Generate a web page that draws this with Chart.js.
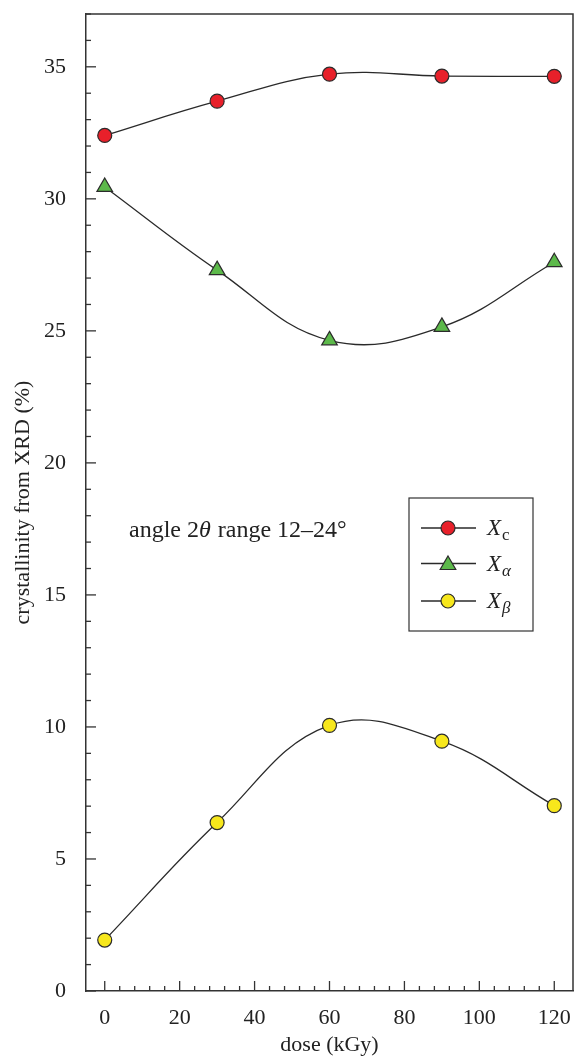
<!DOCTYPE html>
<html>
<head>
<meta charset="utf-8">
<script src="https://cdn.jsdelivr.net/npm/chart.js@4.4.1/dist/chart.umd.min.js"></script>
<style>
  html, body { margin: 0; padding: 0; background: #fff; }
  #wrap { width: 574px; height: 1057px; }
</style>
</head>
<body>
<div id="wrap"><canvas id="c" width="574" height="1057"></canvas></div>
<script>
// ---- data ----
const doses = [0, 30, 60, 90, 120];
const Xc = [32.4, 33.7, 34.72, 34.65, 34.64];
const Xalpha = [30.45, 27.3, 24.64, 25.15, 27.6];
const Xbeta = [1.93, 6.38, 10.06, 9.46, 7.02];
const yTickLabels = [0, 5, 10, 15, 20, 25, 30, 35];
const xTickLabels = [0, 20, 40, 60, 80, 100, 120];
const seriesNames = ['c', 'α', 'β'];

const SERIF = '"Liberation Serif", "DejaVu Serif", serif';
const EDGE = '#2b2b2b';
const LINE = '#2a2a2a';
const TEXT = '#222';
const colors = ['#e8202a', '#5cb94a', '#f7e71c'];
const styles = ['circle', 'triangle', 'circle'];
const radii = [7, 9, 7];

function pts(arr) { return doses.map((d, i) => ({ x: d, y: arr[i] })); }

const ticksAndFrame = {
  id: 'ticksAndFrame',
  afterDraw(chart) {
    const { ctx, chartArea: a, scales: { x, y } } = chart;
    ctx.save();
    ctx.strokeStyle = '#333';
    ctx.lineWidth = 1.5;
    // frame (top and right)
    ctx.beginPath();
    ctx.moveTo(a.left, a.top); ctx.lineTo(a.right, a.top); ctx.lineTo(a.right, a.bottom);
    ctx.stroke();
    ctx.lineWidth = 1.3;
    // y ticks (inward)
    y.ticks.forEach(t => {
      const v = t.value;
      if (Math.abs(v - Math.round(v)) > 1e-6) return;
      const py = y.getPixelForValue(v);
      const len = (Math.round(v) % 5 === 0) ? 10 : 5;
      ctx.beginPath(); ctx.moveTo(a.left, py); ctx.lineTo(a.left + len, py); ctx.stroke();
    });
    // x ticks (inward)
    x.ticks.forEach(t => {
      const v = Math.round(t.value);
      if (Math.abs(t.value - v) > 1e-6 || v % 4 !== 0) return;
      const px = x.getPixelForValue(v);
      const len = (v % 20 === 0) ? 10 : 5;
      ctx.beginPath(); ctx.moveTo(px, a.bottom); ctx.lineTo(px, a.bottom - len); ctx.stroke();
    });
    // annotation
    ctx.fillStyle = TEXT;
    ctx.textBaseline = 'alphabetic';
    ctx.textAlign = 'left';
    let tx = a.left + 43, ty = a.top + 523;
    const parts = [['angle 2', false], ['θ', true], [' range 12–24°', false]];
    parts.forEach(([s, it]) => {
      ctx.font = (it ? 'italic ' : '') + '24px ' + SERIF;
      ctx.fillText(s, tx, ty);
      tx += ctx.measureText(s).width + (it ? 1 : 0);
    });
    // legend
    const bx = a.left + 323, by = a.top + 484, bw = 124, bh = 133;
    ctx.strokeStyle = '#333';
    ctx.lineWidth = 1.2;
    ctx.strokeRect(bx, by, bw, bh);
    const rows = [a.top + 514, a.top + 549.5, a.top + 587];
    chart.data.datasets.forEach((ds, i) => {
      const ry = rows[i];
      ctx.strokeStyle = LINE; ctx.lineWidth = 1.3;
      ctx.beginPath(); ctx.moveTo(bx + 12, ry); ctx.lineTo(bx + 67, ry); ctx.stroke();
      ctx.fillStyle = ds.pointBackgroundColor;
      ctx.strokeStyle = EDGE; ctx.lineWidth = 1.2;
      Chart.helpers.drawPoint(ctx, { pointStyle: ds.pointStyle, rotation: 0, radius: ds.pointRadius, borderWidth: 1.2 }, bx + 39, ry + (i === 1 ? 1.5 : 0));
      ctx.fillStyle = TEXT;
      ctx.font = 'italic 23px ' + SERIF;
      ctx.fillText('X', bx + 78, ry + 7);
      const w = ctx.measureText('X').width;
      ctx.font = (i === 0 ? '' : 'italic ') + '17px ' + SERIF;
      ctx.fillText(seriesNames[i], bx + 78 + w + 1, ry + 12);
    });
    ctx.restore();
  }
};

const datasets = [Xc, Xalpha, Xbeta].map((arr, i) => ({
  label: 'X' + seriesNames[i],
  data: pts(arr),
  borderColor: LINE,
  borderWidth: 1.3,
  tension: 0.4,
  pointStyle: styles[i],
  pointRadius: radii[i],
  pointHoverRadius: radii[i],
  pointBackgroundColor: colors[i],
  pointBorderColor: EDGE,
  pointBorderWidth: 1.2,
  fill: false
}));

new Chart(document.getElementById('c'), {
  type: 'line',
  data: { datasets },
  options: {
    responsive: false,
    animation: false,
    devicePixelRatio: 1,
    layout: { autoPadding: false, padding: { top: 14, right: 1, left: 0, bottom: 0 } },
    plugins: { legend: { display: false }, tooltip: { enabled: false } },
    scales: {
      x: {
        type: 'linear', min: -5, max: 125,
        afterFit: s => { s.height = 66; s.paddingLeft = 0; s.paddingRight = 0; },
        grid: { display: false },
        border: { display: true, color: '#333', width: 1.5 },
        ticks: {
          stepSize: 4, autoSkip: false, maxRotation: 0, padding: 6,
          color: TEXT, font: { family: SERIF, size: 22 },
          callback: v => xTickLabels.includes(v) ? String(v) : ''
        },
        title: { display: true, text: 'dose (kGy)', color: TEXT, font: { family: SERIF, size: 22 }, padding: { top: 0, bottom: -1 } }
      },
      y: {
        type: 'linear', min: 0, max: 37,
        afterFit: s => { s.width = 86; s.paddingTop = 0; s.paddingBottom = 0; },
        grid: { display: false },
        border: { display: true, color: '#333', width: 1.5 },
        ticks: {
          stepSize: 1, autoSkip: false, padding: 12,
          color: TEXT, font: { family: SERIF, size: 22 },
          callback: v => yTickLabels.includes(v) ? String(v) : ''
        },
        title: { display: true, text: 'crystallinity from XRD (%)', color: TEXT, font: { family: SERIF, size: 22 }, padding: { top: 10, bottom: 0 } }
      }
    }
  },
  plugins: [ticksAndFrame]
});
</script>
</body>
</html>
